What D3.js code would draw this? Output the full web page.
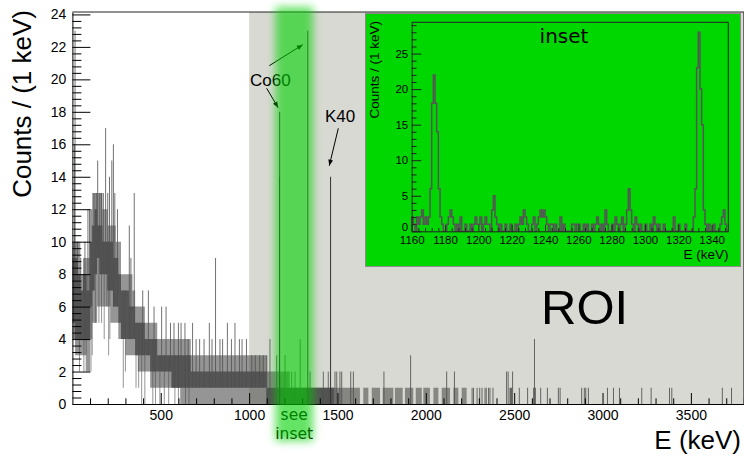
<!DOCTYPE html>
<html><head><meta charset="utf-8">
<script src="https://cdn.jsdelivr.net/npm/d3@7"></script>
<style>html,body{margin:0;padding:0;background:#fff;}svg{display:block}</style>
</head><body>
<svg id="c" width="744" height="459"></svg>
<script>
// ---------------- data ----------------
// main spectrum, 1 keV bins; the dense part is given as envelopes (core = most bins, halo = outer range)
const bandStart = [0, 15, 30, 45, 60, 80, 100, 112, 125, 140, 155, 170, 200, 215, 230, 245, 260, 275, 300, 320, 340, 355, 370, 410, 440, 480, 560, 610, 670, 1000, 1100, 1230,
                   1480, 1627, 1646, 1675, 1694, 1741, 1756, 1816, 1825, 1869, 1882, 1929, 1943, 1977, 1986, 2023, 2043, 2071, 2090, 2137, 2156, 2184, 2203];
const bandEnd = 2231;
const coreLo = [5, 4, 4, 4, 4, 4, 6, 7, 8, 9, 8, 8, 7, 7, 6, 6, 5, 4, 4, 4, 4, 3, 3, 3, 2, 2, 1, 1, 1, 1, 0, 0,
                0, 0, 0, 0, 0, 0, 0, 0, 0, 0, 0, 0, 0, 0, 0, 0, 0, 0, 0, 0, 0, 0, 0];
const coreHi = [9, 9, 8, 7, 8, 7, 10, 11, 12, 11, 11, 10, 10, 10, 9, 9, 8, 7, 7, 6, 6, 5, 5, 4, 4, 3, 3, 3, 2, 2, 1, 1,
                0, 0, 0, 0, 0, 0, 0, 0, 0, 0, 0, 0, 0, 0, 0, 0, 0, 0, 0, 0, 0, 0, 0];
const haloLo = [4, 3, 3, 3, 3, 2, 4, 5, 5, 6, 6, 6, 6, 5, 5, 5, 4, 4, 3, 3, 3, 3, 2, 2, 1, 1, 1, 0, 0, 0, 0, 0,
                0, 0, 0, 0, 0, 0, 0, 0, 0, 0, 0, 0, 0, 0, 0, 0, 0, 0, 0, 0, 0, 0, 0];
const haloHi = [10, 10, 10, 8, 9, 9, 12, 13, 13, 13, 13, 12, 11, 11, 11, 10, 10, 8, 8, 8, 7, 6, 6, 5, 5, 4, 4, 4, 3, 3, 2, 1,
                1, 0, 1, 0, 1, 0, 1, 0, 1, 0, 1, 0, 1, 0, 1, 0, 1, 0, 1, 0, 1, 0, 1];
// single bins above the band
const spikeE = [12, 15, 28, 47, 71, 88, 97, 122, 135, 143, 155, 165, 175, 188, 200, 210, 223, 232, 240, 255, 322, 331, 350, 398, 430, 462, 505, 530, 555, 575, 600, 615, 637, 655, 680, 700, 720, 745, 775, 790, 810, 835, 850, 877, 900, 920, 945, 960, 985, 1015, 1035, 1060, 1080, 1100, 1118, 1156, 1203, 1241, 1260, 1289, 1345, 1420, 1448];
const spikeN = [16, 23, 10, 9, 10, 12, 12, 13, 13, 15, 13, 13, 13, 17, 13, 14, 15, 16, 13, 12, 11, 9, 13, 7, 7, 6, 6, 6, 5, 5, 5, 5, 5, 4, 5, 4, 4, 4, 5, 4, 9, 4, 4, 5, 4, 5, 4, 4, 4, 3, 3, 3, 3, 3, 4, 3, 3, 2, 2, 4, 2, 2, 2];
// single bins below the band
const dipE = [40, 65, 78, 105, 112, 130, 150, 165, 180, 195, 205, 212, 288, 300, 360, 375, 392, 410, 455, 470, 495, 520, 545, 580, 600, 640, 660];
const dipN = [2, 2, 2, 2, 3, 5, 5, 5, 4, 6, 3, 4, 1, 2, 1, 1, 0, 0, 0, 0, 0, 0, 0, 0, 0, 0, 0];
// isolated bins at high energy
const sparseE = [1486, 1496, 1514, 1524, 1575, 1590, 1763, 1914, 2118, 2162, 2262, 2270, 2290, 2305, 2318, 2335, 2342, 2355, 2363, 2380, 2457, 2466, 2476, 2480, 2485, 2491, 2529, 2576, 2610, 2615, 2620, 2650, 2688, 2750, 2760, 2882, 2897, 2905, 2920, 3028, 3062, 3096, 3222, 3275, 3379, 3392, 3678, 3730];
const sparseN = [2, 2, 2, 2, 2, 2, 2, 3, 2, 2, 1, 1, 1, 1, 1, 1, 1, 1, 1, 1, 2, 2, 1, 1, 1, 2, 1, 1, 1, 4, 1, 1, 1, 1, 1, 1, 1, 1, 1, 1, 1, 1, 1, 1, 1, 1, 1, 1];
// gamma lines
const peakE = [1172, 1173, 1332, 1461];
const peakN = [14, 18, 23, 14];
const xMax = 3800, yMax = 24.15, roiStart = 1000;
const xTicks = [500, 1000, 1500, 2000, 2500, 3000, 3500];
const yTicks = [0, 2, 4, 6, 8, 10, 12, 14, 16, 18, 20, 22, 24];

// inset: 1 keV bins from 1160 to 1350
const insetStart = 1160, insetEnd = 1350, insetMax = 29.4;
const insetCounts = [
 2,1,0,2,1,2,3,1,2,1,
 2,6,18,22,18,14,6,2,1,0,
 0,1,2,3,2,1,0,1,0,2,
 0,0,1,0,0,1,0,1,2,1,
 1,2,0,1,2,1,1,0,3,5,
 2,1,0,1,0,0,1,0,0,1,
 0,0,1,0,1,2,1,3,2,1,
 0,0,1,2,0,1,2,3,2,3,
 2,1,0,1,1,0,1,0,0,2,
 0,1,0,0,0,0,1,1,0,1,
 1,0,0,1,0,1,0,0,1,0,
 1,2,1,0,1,0,3,1,0,0,
 1,0,2,1,0,1,2,0,1,3,
 6,3,1,0,2,1,0,1,0,0,
 1,0,0,1,0,2,1,0,1,0,
 0,1,0,0,0,0,0,2,0,0,
 1,0,0,0,1,0,0,0,0,2,
 6,23,28,20,15,3,1,0,1,0,
 0,1,0,0,0,1,2,3,1,0];
const insetXTicks = [1160, 1180, 1200, 1220, 1240, 1260, 1280, 1300, 1320, 1340];
const insetYTicks = [0, 5, 10, 15, 20, 25];

// ---------------- drawing ----------------
const FONT = "'Liberation Sans', Arial, Helvetica, sans-serif";
const DFONT = "'DejaVu Sans', Verdana, sans-serif";
const fmt = d3.format('d');
const svg = d3.select('#c');
const defs = svg.append('defs');
const x = d3.scaleLinear().domain([0, xMax]).range([72.4, 743.9]);
const y = d3.scaleLinear().domain([0, yMax]).range([404, 12]);

defs.append('clipPath').attr('id', 'frameClip').append('rect')
  .attr('x', x(0)).attr('y', y(yMax)).attr('width', x(xMax) - x(0)).attr('height', y(0) - y(yMax));

// ROI shading
svg.append('rect').attr('x', x(roiStart)).attr('y', y(yMax))
  .attr('width', x(xMax) - x(roiStart)).attr('height', y(0) - y(yMax)).attr('fill', '#d9d9d3');

const hist = svg.append('g').attr('clip-path', 'url(#frameClip)');
const HC = '#4f4f4f';
const segs = bandStart.map((s, i) => ({ e: s, cl: coreLo[i], ch: coreHi[i], hl: haloLo[i], hh: haloHi[i] }));
segs.push(Object.assign({}, segs[segs.length - 1], { e: bandEnd }));
const haloArea = d3.area().curve(d3.curveStepAfter).x(d => x(d.e)).y0(d => y(d.hl)).y1(d => y(d.hh));
const coreArea = d3.area().curve(d3.curveStepAfter).x(d => x(d.e)).y0(d => y(d.cl)).y1(d => y(d.ch));
hist.append('path').attr('d', haloArea(segs)).attr('fill', HC).attr('opacity', 0.6);
hist.append('path').attr('d', coreArea(segs)).attr('fill', HC).attr('opacity', 0.92);

function segOf(e) { return Math.max(0, d3.bisectRight(bandStart, e) - 1); }
hist.append('g').selectAll('line').data(spikeE.map((e, i) => ({ e, n: spikeN[i] }))).join('line')
  .attr('x1', d => x(d.e)).attr('x2', d => x(d.e))
  .attr('y1', d => y(coreLo[segOf(d.e)])).attr('y2', d => y(d.n))
  .attr('stroke', HC).attr('stroke-width', 1).attr('opacity', 0.8);
hist.append('g').selectAll('line').data(dipE.map((e, i) => ({ e, n: dipN[i] }))).join('line')
  .attr('x1', d => x(d.e)).attr('x2', d => x(d.e))
  .attr('y1', d => y(coreHi[segOf(d.e)])).attr('y2', d => y(d.n))
  .attr('stroke', HC).attr('stroke-width', 1).attr('opacity', 0.6);
hist.append('g').selectAll('line').data(sparseE.map((e, i) => ({ e, n: sparseN[i] }))).join('line')
  .attr('x1', d => x(d.e)).attr('x2', d => x(d.e))
  .attr('y1', y(0)).attr('y2', d => y(d.n))
  .attr('stroke', HC).attr('stroke-width', 1).attr('opacity', 0.85);
hist.append('g').selectAll('line').data(peakE.map((e, i) => ({ e, n: peakN[i] }))).join('line')
  .attr('x1', d => x(d.e)).attr('x2', d => x(d.e))
  .attr('y1', y(0)).attr('y2', d => y(d.n))
  .attr('stroke', '#333').attr('stroke-width', 1);

// axes
const xMinor = d3.range(0, xMax + 1, 100).filter(v => v % 500 !== 0);
const yMinor = d3.range(0, yMax, 0.4).filter(v => Math.abs(v / 2 - Math.round(v / 2)) > 1e-6);
svg.append('g').attr('transform', `translate(0,${y(0)})`)
  .call(d3.axisBottom(x).tickValues(xTicks).tickFormat(fmt).tickSizeInner(-11).tickSizeOuter(0).tickPadding(6));
svg.append('g').attr('transform', `translate(0,${y(0)})`)
  .call(d3.axisBottom(x).tickValues(xMinor).tickSizeInner(-5.7).tickSizeOuter(0).tickFormat(''))
  .select('.domain').remove();
svg.append('g').attr('transform', `translate(${x(0)},0)`)
  .call(d3.axisLeft(y).tickValues(yTicks).tickFormat(fmt).tickSizeInner(-18).tickSizeOuter(0).tickPadding(6));
svg.append('g').attr('transform', `translate(${x(0)},0)`)
  .call(d3.axisLeft(y).tickValues(yMinor).tickSizeInner(-9).tickSizeOuter(0).tickFormat(''))
  .select('.domain').remove();
svg.selectAll('.tick text').attr('font-family', FONT).attr('font-size', 14).attr('fill', '#000');
svg.selectAll('.tick line, .domain').attr('stroke', '#000');
// top / right frame
svg.append('path').attr('d', `M${x(0)},${y(yMax)}H${x(xMax)}V${y(0)}`).attr('fill', 'none').attr('stroke', '#222');

// axis titles
svg.append('text').attr('transform', 'translate(31,10) rotate(-90)').attr('text-anchor', 'end')
  .attr('font-family', FONT).attr('font-size', 26).text('Counts / (1 keV)');
svg.append('text').attr('x', 741).attr('y', 449).attr('text-anchor', 'end')
  .attr('font-family', FONT).attr('font-size', 26).text('E (keV)');

// annotations
defs.append('marker').attr('id', 'arr').attr('viewBox', '0 0 10 10').attr('refX', 10).attr('refY', 5)
  .attr('markerWidth', 7).attr('markerHeight', 6).attr('markerUnits', 'userSpaceOnUse').attr('orient', 'auto')
  .append('path').attr('d', 'M0,1L10,5L0,9z').attr('fill', '#000');
svg.append('text').attr('x', 250).attr('y', 86).attr('font-family', FONT).attr('font-size', 17).text('Co60');
svg.append('text').attr('x', 325).attr('y', 122).attr('font-family', FONT).attr('font-size', 17).text('K40');
const arrows = [
  [269.3, 65.7, x(1332) - 5, y(23) + 14],
  [266.7, 88.3, x(1173) - 1.5, y(18) - 4],
  [338.3, 128.3, x(1461) - 1.3, y(14) - 11]
];
svg.append('g').selectAll('line').data(arrows).join('line')
  .attr('x1', d => d[0]).attr('y1', d => d[1]).attr('x2', d => d[2]).attr('y2', d => d[3])
  .attr('stroke', '#000').attr('stroke-width', 1).attr('marker-end', 'url(#arr)');

svg.append('text').attr('x', 541).attr('y', 324).attr('font-family', FONT).attr('font-size', 49).text('ROI');
const seeX = x((insetStart + insetEnd) / 2);
svg.append('text').attr('x', seeX).attr('y', 420).attr('text-anchor', 'middle')
  .attr('font-family', DFONT).attr('font-size', 15.5).text('see');
svg.append('text').attr('x', seeX).attr('y', 438.5).attr('text-anchor', 'middle')
  .attr('font-family', DFONT).attr('font-size', 15.5).text('inset');

// green glow band
const glow = defs.append('filter').attr('id', 'glow').attr('x', '-60%').attr('y', '-10%').attr('width', '220%').attr('height', '120%');
glow.append('feGaussianBlur').attr('stdDeviation', 4);
svg.append('rect').attr('x', x(insetStart - 12)).attr('y', 7)
  .attr('width', x(insetEnd + 12) - x(insetStart - 12)).attr('height', 434)
  .attr('fill', '#00d200').attr('opacity', 0.6).attr('filter', 'url(#glow)');

// ---------------- inset ----------------
const ins = svg.append('g');
ins.append('rect').attr('x', 365.5).attr('y', 13.5).attr('width', 375).attr('height', 253)
  .attr('fill', '#00d600').attr('stroke', '#8c8c8c').attr('stroke-width', 1);
const xi = d3.scaleLinear().domain([insetStart, insetEnd]).range([411.7, 728.3]);
const yi = d3.scaleLinear().domain([0, insetMax]).range([231.3, 22.3]);
let pth = `M${xi(insetStart)},${yi(0)}`;
insetCounts.forEach((c, i) => { pth += `V${yi(c)}H${xi(insetStart + i + 1)}`; });
pth += `V${yi(0)}`;
ins.append('path').attr('d', pth).attr('fill', 'none').attr('stroke', '#555').attr('stroke-width', 1.5);
const xiMinor = d3.range(insetStart, insetEnd, 4).filter(v => (v - insetStart) % 20 !== 0);
const yiMinor = d3.range(0, insetMax, 1).filter(v => v % 5 !== 0);
ins.append('g').attr('transform', `translate(0,${yi(0)})`)
  .call(d3.axisBottom(xi).tickValues(insetXTicks).tickFormat(fmt).tickSizeInner(-6.5).tickSizeOuter(0).tickPadding(5));
ins.append('g').attr('transform', `translate(0,${yi(0)})`)
  .call(d3.axisBottom(xi).tickValues(xiMinor).tickSizeInner(-3.3).tickSizeOuter(0).tickFormat(''))
  .select('.domain').remove();
const giy = ins.append('g').attr('transform', `translate(${xi(insetStart)},0)`)
  .call(d3.axisLeft(yi).tickValues(insetYTicks).tickFormat(fmt).tickSizeInner(-9.5).tickSizeOuter(0).tickPadding(3.5));
giy.selectAll('.tick text').filter(d => d === 0).attr('dy', '-0.05em');
ins.append('g').attr('transform', `translate(${xi(insetStart)},0)`)
  .call(d3.axisLeft(yi).tickValues(yiMinor).tickSizeInner(-4.8).tickSizeOuter(0).tickFormat(''))
  .select('.domain').remove();
ins.selectAll('.tick text').attr('font-family', FONT).attr('font-size', 11.5).attr('fill', '#000');
ins.selectAll('.tick line, .domain').attr('stroke', '#222');
ins.append('path').attr('d', `M${xi(insetStart)},${yi(insetMax)}H${xi(insetEnd)}V${yi(0)}`)
  .attr('fill', 'none').attr('stroke', '#222');
ins.append('text').attr('transform', 'translate(378.5,21) rotate(-90)').attr('text-anchor', 'end')
  .attr('font-family', FONT).attr('font-size', 13.5).text('Counts / (1 keV)');
ins.append('text').attr('x', 728.5).attr('y', 259).attr('text-anchor', 'end')
  .attr('font-family', FONT).attr('font-size', 13.5).text('E (keV)');
ins.append('text').attr('x', 564).attr('y', 43).attr('text-anchor', 'middle')
  .attr('font-family', DFONT).attr('font-size', 20).text('inset');
</script>
</body></html>
